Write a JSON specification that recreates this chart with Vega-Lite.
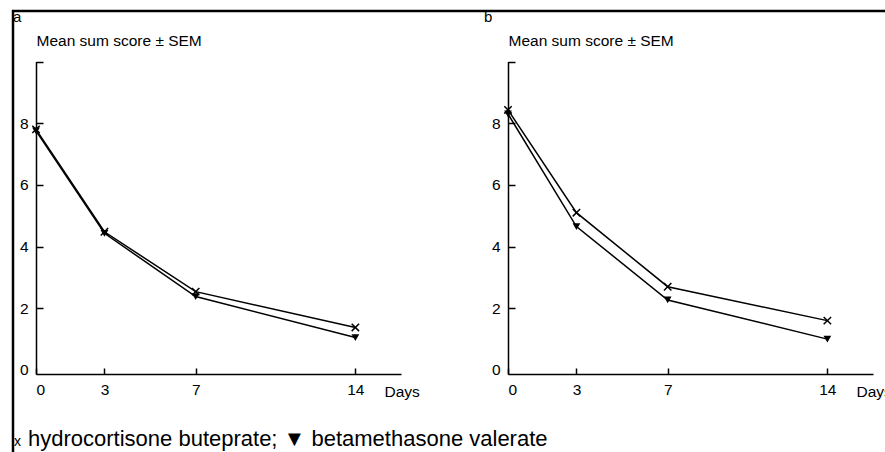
{
  "$schema": "https://vega.github.io/schema/vega-lite/v6.json",
  "width": 900,
  "height": 460,
  "autosize": "none",
  "padding": {"left": 13, "top": 11, "right": 0, "bottom": 0},
  "background": "white",
  "config": {
    "font": "Liberation Sans",
    "view": {"stroke": "black", "strokeWidth": 2.5},
    "axis": {
      "domainColor": "black", "domainWidth": 1.5,
      "tickColor": "black", "tickWidth": 1.5,
      "labelColor": "black", "labelFontSize": 15.5, "labelFont": "Liberation Sans",
      "titleColor": "black", "titleFontSize": 15.5, "titleFontWeight": "normal", "titleFont": "Liberation Sans",
      "grid": false
    },
    "text": {"font": "Liberation Sans", "color": "black"}
  },
  "datasets": {
    "scores": [
      {"panel": "a", "treatment": "hydrocortisone buteprate", "day": 0, "score": 7.8},
      {"panel": "a", "treatment": "hydrocortisone buteprate", "day": 3, "score": 4.48},
      {"panel": "a", "treatment": "hydrocortisone buteprate", "day": 7, "score": 2.54},
      {"panel": "a", "treatment": "hydrocortisone buteprate", "day": 14, "score": 1.38},
      {"panel": "a", "treatment": "betamethasone valerate", "day": 0, "score": 7.75},
      {"panel": "a", "treatment": "betamethasone valerate", "day": 3, "score": 4.43},
      {"panel": "a", "treatment": "betamethasone valerate", "day": 7, "score": 2.38},
      {"panel": "a", "treatment": "betamethasone valerate", "day": 14, "score": 1.05},
      {"panel": "b", "treatment": "hydrocortisone buteprate", "day": 0, "score": 8.43},
      {"panel": "b", "treatment": "hydrocortisone buteprate", "day": 3, "score": 5.1},
      {"panel": "b", "treatment": "hydrocortisone buteprate", "day": 7, "score": 2.7},
      {"panel": "b", "treatment": "hydrocortisone buteprate", "day": 14, "score": 1.6},
      {"panel": "b", "treatment": "betamethasone valerate", "day": 0, "score": 8.3},
      {"panel": "b", "treatment": "betamethasone valerate", "day": 3, "score": 4.65},
      {"panel": "b", "treatment": "betamethasone valerate", "day": 7, "score": 2.27},
      {"panel": "b", "treatment": "betamethasone valerate", "day": 14, "score": 1.0}
    ]
  },
  "layer": [
    {
      "data": {"name": "scores"},
      "transform": [{"filter": "datum.panel == 'a'"}],
      "layer": [
        {
          "mark": {"type": "line", "color": "black", "strokeWidth": 1.5},
          "encoding": {
            "x": {"field": "day", "type": "quantitative",
              "scale": {"domain": [0, 16], "range": [23, 388], "nice": false, "zero": false},
              "axis": {"orient": "bottom", "offset": -97, "values": [0, 3, 7, 14], "format": "d", "tickSize": -6, "labelPadding": 14,
                "title": "Days", "titleX": 371, "titleY": 22, "titleAlign": "left", "titleBaseline": "alphabetic", "titleAngle": 0, "titleFontSize": 15.5}},
            "y": {"field": "score", "type": "quantitative",
              "scale": {"domain": [-0.13, 10], "range": [363, 50.5], "nice": false, "zero": false},
              "axis": {"orient": "left", "offset": -23, "values": [0, 2, 4, 6, 8, 10], "format": "d", "tickSize": -7, "labelPadding": 15,
                "labelExpr": "datum.value == 10 ? '' : datum.label",
                "tickColor": {"condition": {"test": "datum.value == 0", "value": "transparent"}, "value": "black"},
                "title": "Mean sum score ± SEM", "titleAngle": 0, "titleAlign": "left", "titleBaseline": "alphabetic", "titleX": 0, "titleY": 34}},
            "detail": {"field": "treatment", "type": "nominal"}
          }
        },
        {
          "transform": [{"filter": "datum.treatment == 'hydrocortisone buteprate'"}],
          "mark": {"type": "point", "shape": "M-1,-1L1,1M-1,1L1,-1", "filled": false, "stroke": "black", "strokeWidth": 1.5, "size": 55, "opacity": 1},
          "encoding": {
            "x": {"field": "day", "type": "quantitative"},
            "y": {"field": "score", "type": "quantitative"}
          }
        },
        {
          "transform": [{"filter": "datum.treatment == 'betamethasone valerate'"}],
          "mark": {"type": "point", "shape": "triangle-down", "filled": true, "color": "black", "size": 60, "opacity": 1},
          "encoding": {
            "x": {"field": "day", "type": "quantitative"},
            "y": {"field": "score", "type": "quantitative"}
          }
        },
        {
          "data": {"values": [{"t": "a"}]},
          "mark": {"type": "text", "align": "left", "baseline": "alphabetic", "fontSize": 15},
          "encoding": {
            "x": {"datum": -1.008, "type": "quantitative"},
            "y": {"datum": 11.28, "type": "quantitative"},
            "text": {"field": "t"}
          }
        },
        {
          "data": {"values": [{"t": "x"}]},
          "mark": {"type": "text", "align": "left", "baseline": "alphabetic", "fontSize": 14},
          "encoding": {
            "x": {"datum": -0.964, "type": "quantitative"},
            "y": {"datum": -2.46, "type": "quantitative"},
            "text": {"field": "t"}
          }
        },
        {
          "data": {"values": [{"t": "hydrocortisone buteprate; ▼ betamethasone valerate"}]},
          "mark": {"type": "text", "align": "left", "baseline": "alphabetic", "fontSize": 22},
          "encoding": {
            "x": {"datum": -0.351, "type": "quantitative"},
            "y": {"datum": -2.46, "type": "quantitative"},
            "text": {"field": "t"}
          }
        }
      ]
    },
    {
      "data": {"name": "scores"},
      "transform": [{"filter": "datum.panel == 'b'"}],
      "layer": [
        {
          "mark": {"type": "line", "color": "black", "strokeWidth": 1.5},
          "encoding": {
            "x": {"field": "day", "type": "quantitative",
              "scale": {"domain": [0, 16], "range": [495, 860], "nice": false, "zero": false},
              "axis": {"orient": "bottom", "offset": -97, "values": [0, 3, 7, 14], "format": "d", "tickSize": -6, "labelPadding": 14,
                "title": "Days", "titleX": 843, "titleY": 22, "titleAlign": "left", "titleBaseline": "alphabetic", "titleAngle": 0, "titleFontSize": 15.5}},
            "y": {"field": "score", "type": "quantitative",
              "scale": {"domain": [-0.13, 10], "range": [363, 50.5], "nice": false, "zero": false},
              "axis": {"orient": "left", "offset": -495, "values": [0, 2, 4, 6, 8, 10], "format": "d", "tickSize": -7, "labelPadding": 15,
                "labelExpr": "datum.value == 10 ? '' : datum.label",
                "tickColor": {"condition": {"test": "datum.value == 0", "value": "transparent"}, "value": "black"},
                "title": "Mean sum score ± SEM", "titleAngle": 0, "titleAlign": "left", "titleBaseline": "alphabetic", "titleX": 0, "titleY": 34}},
            "detail": {"field": "treatment", "type": "nominal"}
          }
        },
        {
          "transform": [{"filter": "datum.treatment == 'hydrocortisone buteprate'"}],
          "mark": {"type": "point", "shape": "M-1,-1L1,1M-1,1L1,-1", "filled": false, "stroke": "black", "strokeWidth": 1.5, "size": 55, "opacity": 1},
          "encoding": {
            "x": {"field": "day", "type": "quantitative"},
            "y": {"field": "score", "type": "quantitative"}
          }
        },
        {
          "transform": [{"filter": "datum.treatment == 'betamethasone valerate'"}],
          "mark": {"type": "point", "shape": "triangle-down", "filled": true, "color": "black", "size": 60, "opacity": 1},
          "encoding": {
            "x": {"field": "day", "type": "quantitative"},
            "y": {"field": "score", "type": "quantitative"}
          }
        },
        {
          "data": {"values": [{"t": "b"}]},
          "mark": {"type": "text", "align": "left", "baseline": "alphabetic", "fontSize": 15},
          "encoding": {
            "x": {"datum": -1.052, "type": "quantitative"},
            "y": {"datum": 11.28, "type": "quantitative"},
            "text": {"field": "t"}
          }
        }
      ]
    }
  ],
  "resolve": {
    "scale": {"x": "independent", "y": "independent"},
    "axis": {"x": "independent", "y": "independent"}
  }
}
